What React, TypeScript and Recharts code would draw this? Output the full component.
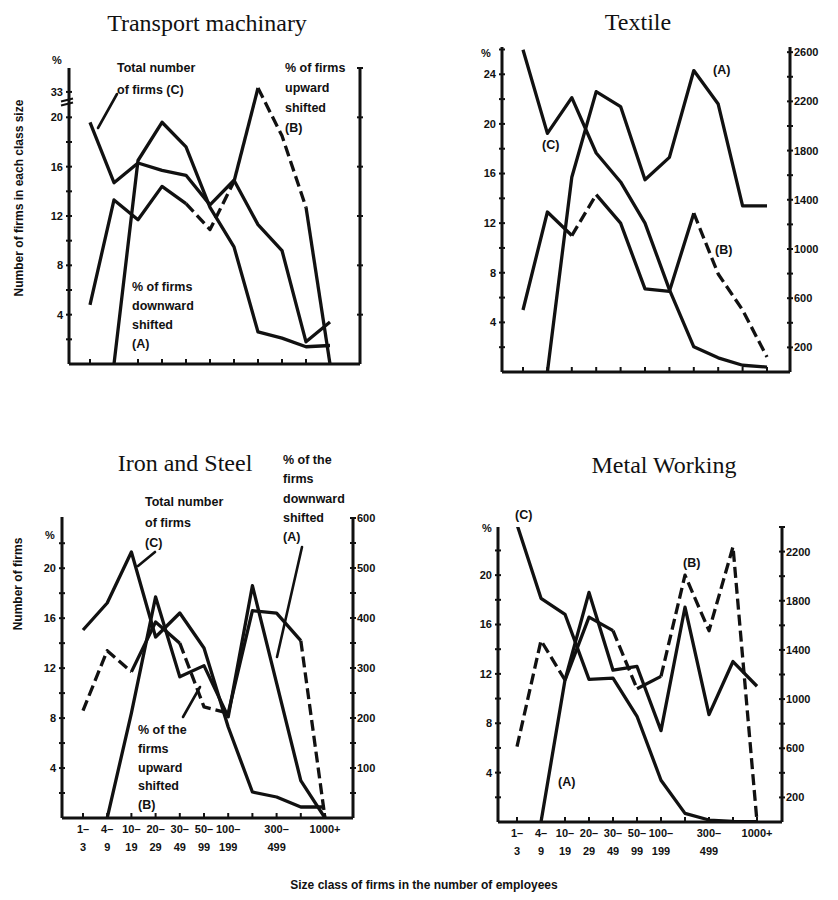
import React from "react";
import { LineChart, Line, XAxis, YAxis } from "recharts";

// Size classes of firms (number of employees)
const sizeClasses = ["1–3", "4–9", "10–19", "20–29", "30–49", "50–99", "100–199", "200–299", "300–499", "500–999", "1000+"];
const sizeTickUpper = ["1–", "4–", "10–", "20–", "30–", "50–", "100–", "", "300–", "", "1000+"];
const sizeTickLower = ["3", "9", "19", "29", "49", "99", "199", "", "499", "", ""];

// Transport machinary: A = % downward shifted, B = % upward shifted, C = total number of firms
const transportDownward = [null, 0, 16.5, 19.6, 17.6, 12.7, 9.5, 2.6, 2.1, 1.4, 1.5];
const transportUpward = [4.8, 13.3, 11.7, 14.4, 13.0, 10.9, 14.8, 35, 18.5, 12.7, 0];
const transportTotal = [980, 735, 815, 785, 765, 645, 745, 565, 460, 90, 170];

// Textile
const textileDownward = [null, 0, 15.7, 22.6, 21.4, 15.5, 17.3, 24.3, 21.6, 13.4, 13.4];
const textileUpward = [5.0, 12.9, 11.0, 14.3, 12.0, 6.7, 6.5, 12.8, 7.9, 5.0, 1.2];
const textileTotal = [2620, 1940, 2230, 1780, 1545, 1210, 670, 205, 115, 55, 40];

// Iron and Steel
const ironDownward = [null, 0, 8.4, 17.7, 11.3, 12.2, 8.1, 18.6, 10.8, 3.0, 0];
const ironUpward = [8.6, 13.4, 11.7, 15.7, 14.0, 8.9, 8.4, 16.6, 16.4, 14.2, 0];
const ironTotal = [376, 430, 532, 362, 410, 340, 182, 52, 42, 22, 22];

// Metal Working
const metalDownward = [null, 0, 11.5, 18.6, 12.3, 12.6, 7.4, 17.4, 8.7, 13.0, 11.0];
const metalUpward = [6.1, 14.7, 11.5, 16.6, 15.5, 10.8, 11.8, 20.0, 15.5, 22.3, 0];
const metalTotal = [2420, 1820, 1690, 1160, 1170, 860, 340, 70, 16, 5, 3];

// Stretches of the upward-shifted curve (B) that are printed dashed or solid
type Run = { from: number; to: number; dashed: boolean };
const transportUpwardRuns: Run[] = [
  { from: 0, to: 4, dashed: false },
  { from: 4, to: 6, dashed: true },
  { from: 6, to: 7, dashed: false },
  { from: 7, to: 9, dashed: true },
  { from: 9, to: 10, dashed: false },
];
const textileUpwardRuns: Run[] = [
  { from: 0, to: 2, dashed: false },
  { from: 2, to: 3, dashed: true },
  { from: 3, to: 7, dashed: false },
  { from: 7, to: 10, dashed: true },
];
const ironUpwardRuns: Run[] = [
  { from: 0, to: 2, dashed: true },
  { from: 2, to: 4, dashed: false },
  { from: 4, to: 6, dashed: true },
  { from: 6, to: 9, dashed: false },
  { from: 9, to: 10, dashed: true },
];
const metalUpwardRuns: Run[] = [
  { from: 0, to: 2, dashed: true },
  { from: 2, to: 4, dashed: false },
  { from: 4, to: 5, dashed: true },
  { from: 5, to: 6, dashed: false },
  { from: 6, to: 10, dashed: true },
];

const INK = "#111";
const SANS = "'Liberation Sans', Arial, sans-serif";
const SERIF = "'Liberation Serif', 'Times New Roman', serif";

// The transport % axis is broken above 20: higher values are squeezed
const BREAK_FROM = 20;
const BREAK_SHRINK = 0.1585;
const squeeze = (v: number | null) => (v == null ? null : v <= BREAK_FROM ? v : BREAK_FROM + (v - BREAK_FROM) * BREAK_SHRINK);

type Row = { i: number; size: string; a: number | null; b: number | null; c: number | null };
const rowsOf = (a: (number | null)[], b: (number | null)[], c: (number | null)[]): Row[] =>
  sizeClasses.map((size, i) => ({ i, size, a: a[i], b: b[i], c: c[i] }));

type AxisSpec = {
  domain: [number, number];
  ticks: number[];
  label: (v: number) => string | null;
  breakAt?: number;
};

type PanelSpec = {
  rows: Row[];
  plot: { left: number; top: number; right: number; bottom: number };
  pad: { left: number; right: number };
  pct: AxisSpec;
  cnt: AxisSpec;
  xLabels: boolean;
  upward: (r: Row) => number | null;
  runs: Run[];
};

const AXL = 44;
const AXR = 48;
const XH = 46;
const MT = 12;

const range = (from: number, to: number, step: number) => {
  const out: number[] = [];
  for (let v = from; v <= to + 1e-9; v += step) out.push(v);
  return out;
};

function LeftTick(props: any) {
  const { x, y, payload, spec } = props;
  const v = payload.value;
  if (spec.breakAt !== undefined && Math.abs(v - spec.breakAt) < 1e-6) {
    return (
      <g>
        <line x1={x - 8} x2={x + 4} y1={y - 1} y2={y - 4} stroke={INK} strokeWidth={2} />
        <line x1={x - 8} x2={x + 4} y1={y + 3} y2={y} stroke={INK} strokeWidth={2} />
      </g>
    );
  }
  const label = spec.label(v);
  return (
    <g>
      <line x1={x - 3} x2={x + 3} y1={y} y2={y} stroke={INK} strokeWidth={2} />
      {label ? (
        <text x={x - 6} y={y} dy="0.36em" textAnchor="end" fontFamily={SANS} fontWeight="bold" fontSize={11} fill={INK}>
          {label}
        </text>
      ) : null}
    </g>
  );
}

function RightTick(props: any) {
  const { x, y, payload, spec } = props;
  const label = spec.label(payload.value);
  return (
    <g>
      <line x1={x - 3} x2={x + 3} y1={y} y2={y} stroke={INK} strokeWidth={2} />
      {label ? (
        <text x={x + 4} y={y} dy="0.36em" textAnchor="start" fontFamily={SANS} fontWeight="bold" fontSize={11} fill={INK}>
          {label}
        </text>
      ) : null}
    </g>
  );
}

function SizeTick(props: any) {
  const { x, y, index, showLabels } = props;
  return (
    <g>
      <line x1={x} x2={x} y1={y} y2={y - 5} stroke={INK} strokeWidth={2} />
      {showLabels ? (
        <text textAnchor="middle" fontFamily={SANS} fontWeight="bold" fontSize={11} fill={INK}>
          <tspan x={x} y={y + 15}>{sizeTickUpper[index]}</tspan>
          <tspan x={x} y={y + 33}>{sizeTickLower[index]}</tspan>
        </text>
      ) : null}
    </g>
  );
}

function Panel({ spec }: { spec: PanelSpec }) {
  const { plot } = spec;
  const width = plot.right - plot.left + AXL + AXR;
  const height = plot.bottom - plot.top + MT + XH;
  const axisLine = { stroke: INK, strokeWidth: 3 };
  const lineProps = {
    stroke: INK,
    strokeWidth: 3.3,
    dot: false as const,
    isAnimationActive: false,
    strokeLinejoin: "round" as const,
    connectNulls: false,
  };
  return (
    <div style={{ position: "absolute", left: plot.left - AXL, top: plot.top - MT, width, height }}>
      <LineChart width={width} height={height} data={spec.rows} margin={{ top: MT, right: 0, bottom: 0, left: 0 }}>
        <XAxis
          dataKey="size"
          height={XH}
          padding={spec.pad}
          interval={0}
          tickSize={0}
          tickMargin={0}
          tickLine={false}
          axisLine={axisLine}
          tick={(p: any) => <SizeTick {...p} showLabels={spec.xLabels} />}
        />
        <YAxis
          yAxisId="pct"
          orientation="left"
          width={AXL}
          type="number"
          domain={spec.pct.domain}
          ticks={spec.pct.ticks}
          interval={0}
          allowDataOverflow
          tickSize={0}
          tickMargin={0}
          tickLine={false}
          axisLine={axisLine}
          tick={(p: any) => <LeftTick {...p} spec={spec.pct} />}
        />
        <YAxis
          yAxisId="cnt"
          orientation="right"
          width={AXR}
          type="number"
          domain={spec.cnt.domain}
          ticks={spec.cnt.ticks}
          interval={0}
          allowDataOverflow
          tickSize={0}
          tickMargin={0}
          tickLine={false}
          axisLine={axisLine}
          tick={(p: any) => <RightTick {...p} spec={spec.cnt} />}
        />
        <Line yAxisId="pct" dataKey="a" {...lineProps} />
        {spec.runs.map((run, k) => (
          <Line
            key={`b${k}`}
            yAxisId="pct"
            dataKey={(r: Row) => (r.i >= run.from && r.i <= run.to ? spec.upward(r) : null)}
            {...lineProps}
            strokeDasharray={run.dashed ? "11 5" : undefined}
          />
        ))}
        <Line yAxisId="cnt" dataKey="c" {...lineProps} />
      </LineChart>
    </div>
  );
}

const everyFourth = (v: number) => (v > 0 && Math.round(v) % 4 === 0 ? String(Math.round(v)) : null);

const transportSpec: PanelSpec = {
  rows: rowsOf(transportDownward, transportUpward, transportTotal),
  plot: { left: 69, top: 68, right: 360, bottom: 364 },
  pad: { left: 21, right: 30 },
  pct: {
    domain: [0, 24],
    ticks: [...range(2, 20, 2), 21.2, squeeze(33) as number],
    breakAt: 21.2,
    label: (v) => (Math.abs(v - (squeeze(33) as number)) < 1e-6 ? "33" : v <= 20 ? everyFourth(v) : null),
  },
  cnt: { domain: [0, 1200], ticks: range(200, 1200, 200), label: () => null },
  xLabels: false,
  upward: (r) => squeeze(r.b),
  runs: transportUpwardRuns,
};

const textileSpec: PanelSpec = {
  rows: rowsOf(textileDownward, textileUpward, textileTotal),
  plot: { left: 502, top: 47, right: 790, bottom: 372 },
  pad: { left: 21, right: 23 },
  pct: { domain: [0, 26.2], ticks: range(2, 26, 2), label: everyFourth },
  cnt: {
    domain: [0, 2642],
    ticks: range(200, 2600, 200),
    label: (v) => (Math.round(v) % 400 === 200 ? String(Math.round(v)) : null),
  },
  xLabels: false,
  upward: (r) => r.b,
  runs: textileUpwardRuns,
};

const ironSpec: PanelSpec = {
  rows: rowsOf(ironDownward, ironUpward, ironTotal),
  plot: { left: 62, top: 517, right: 353, bottom: 818 },
  pad: { left: 21, right: 28 },
  pct: { domain: [0, 24.1], ticks: range(2, 22, 2), label: (v) => (v <= 20 ? everyFourth(v) : null) },
  cnt: {
    domain: [0, 602],
    ticks: range(50, 600, 50),
    label: (v) => (Math.round(v) % 100 === 0 ? String(Math.round(v)) : null),
  },
  xLabels: true,
  upward: (r) => r.b,
  runs: ironUpwardRuns,
};

const metalSpec: PanelSpec = {
  rows: rowsOf(metalDownward, metalUpward, metalTotal),
  plot: { left: 498, top: 527, right: 782, bottom: 822 },
  pad: { left: 19, right: 25 },
  pct: { domain: [0, 23.9], ticks: range(2, 22, 2), label: (v) => (v <= 20 ? everyFourth(v) : null) },
  cnt: {
    domain: [0, 2400],
    ticks: range(200, 2400, 200),
    label: (v) => (Math.round(v) % 400 === 200 ? String(Math.round(v)) : null),
  },
  xLabels: true,
  upward: (r) => r.b,
  runs: metalUpwardRuns,
};

// Annotation blocks: left edge, first baseline, line gap, text lines
const notes: { x: number; y: number; gap: number; lines: string[] }[] = [
  { x: 117, y: 72, gap: 22, lines: ["Total number", "of firms (C)"] },
  { x: 285, y: 72, gap: 20, lines: ["% of firms", "upward", "shifted", "(B)"] },
  { x: 132, y: 291, gap: 19, lines: ["% of firms", "downward", "shifted", "(A)"] },
  { x: 713, y: 74, gap: 0, lines: ["(A)"] },
  { x: 542, y: 149, gap: 0, lines: ["(C)"] },
  { x: 715, y: 254, gap: 0, lines: ["(B)"] },
  { x: 145, y: 506, gap: 20.5, lines: ["Total number", "of firms", "(C)"] },
  { x: 283, y: 464, gap: 19.3, lines: ["% of the", "firms", "downward", "shifted", "(A)"] },
  { x: 138, y: 734, gap: 18.8, lines: ["% of the", "firms", "upward", "shifted", "(B)"] },
  { x: 515, y: 519, gap: 0, lines: ["(C)"] },
  { x: 683, y: 567, gap: 0, lines: ["(B)"] },
  { x: 558, y: 786, gap: 0, lines: ["(A)"] },
];

const leaders: [number, number, number, number][] = [
  [117, 94, 98, 128],
  [155, 552, 138, 566],
  [183, 717, 200, 687],
  [302, 547, 277, 657],
];

const titles: { x: number; y: number; text: string }[] = [
  { x: 207, y: 31, text: "Transport machinary" },
  { x: 638, y: 30, text: "Textile" },
  { x: 185, y: 471, text: "Iron and Steel" },
  { x: 664, y: 473, text: "Metal Working" },
];

const percentMarks: { x: number; y: number }[] = [
  { x: 57, y: 64 },
  { x: 486, y: 57 },
  { x: 50, y: 539 },
  { x: 487, y: 532 },
];

export default function App() {
  return (
    <div
      style={{
        position: "absolute",
        left: 0,
        top: 0,
        width: 838,
        height: 900,
        background: "#fff",
        overflow: "hidden",
      }}
    >
      <Panel spec={transportSpec} />
      <Panel spec={textileSpec} />
      <Panel spec={ironSpec} />
      <Panel spec={metalSpec} />
      <svg width={838} height={900} style={{ position: "absolute", left: 0, top: 0, pointerEvents: "none" }}>
        {titles.map((t) => (
          <text key={t.text} x={t.x} y={t.y} textAnchor="middle" fontFamily={SERIF} fontSize={24} fill={INK}>
            {t.text}
          </text>
        ))}
        {percentMarks.map((p, i) => (
          <text key={i} x={p.x} y={p.y} textAnchor="middle" fontFamily={SANS} fontWeight="bold" fontSize={11} fill={INK}>
            %
          </text>
        ))}
        {notes.map((n, i) => (
          <text key={i} fontFamily={SANS} fontWeight="bold" fontSize={12.5} fill={INK}>
            {n.lines.map((l, j) => (
              <tspan key={j} x={n.x} y={n.y + j * n.gap}>
                {l}
              </tspan>
            ))}
          </text>
        ))}
        {leaders.map(([x1, y1, x2, y2], i) => (
          <line key={i} x1={x1} y1={y1} x2={x2} y2={y2} stroke={INK} strokeWidth={2.6} strokeLinecap="round" />
        ))}
        <text
          transform="translate(23,198) rotate(-90)"
          textAnchor="middle"
          fontFamily={SANS}
          fontWeight="bold"
          fontSize={12}
          fill={INK}
        >
          Number of firms in each class size
        </text>
        <text
          transform="translate(22,584) rotate(-90)"
          textAnchor="middle"
          fontFamily={SANS}
          fontWeight="bold"
          fontSize={12}
          fill={INK}
        >
          Number of firms
        </text>
        <text x={424} y={889} textAnchor="middle" fontFamily={SANS} fontWeight="bold" fontSize={12} fill={INK}>
          Size class of firms in the number of employees
        </text>
      </svg>
    </div>
  );
}
